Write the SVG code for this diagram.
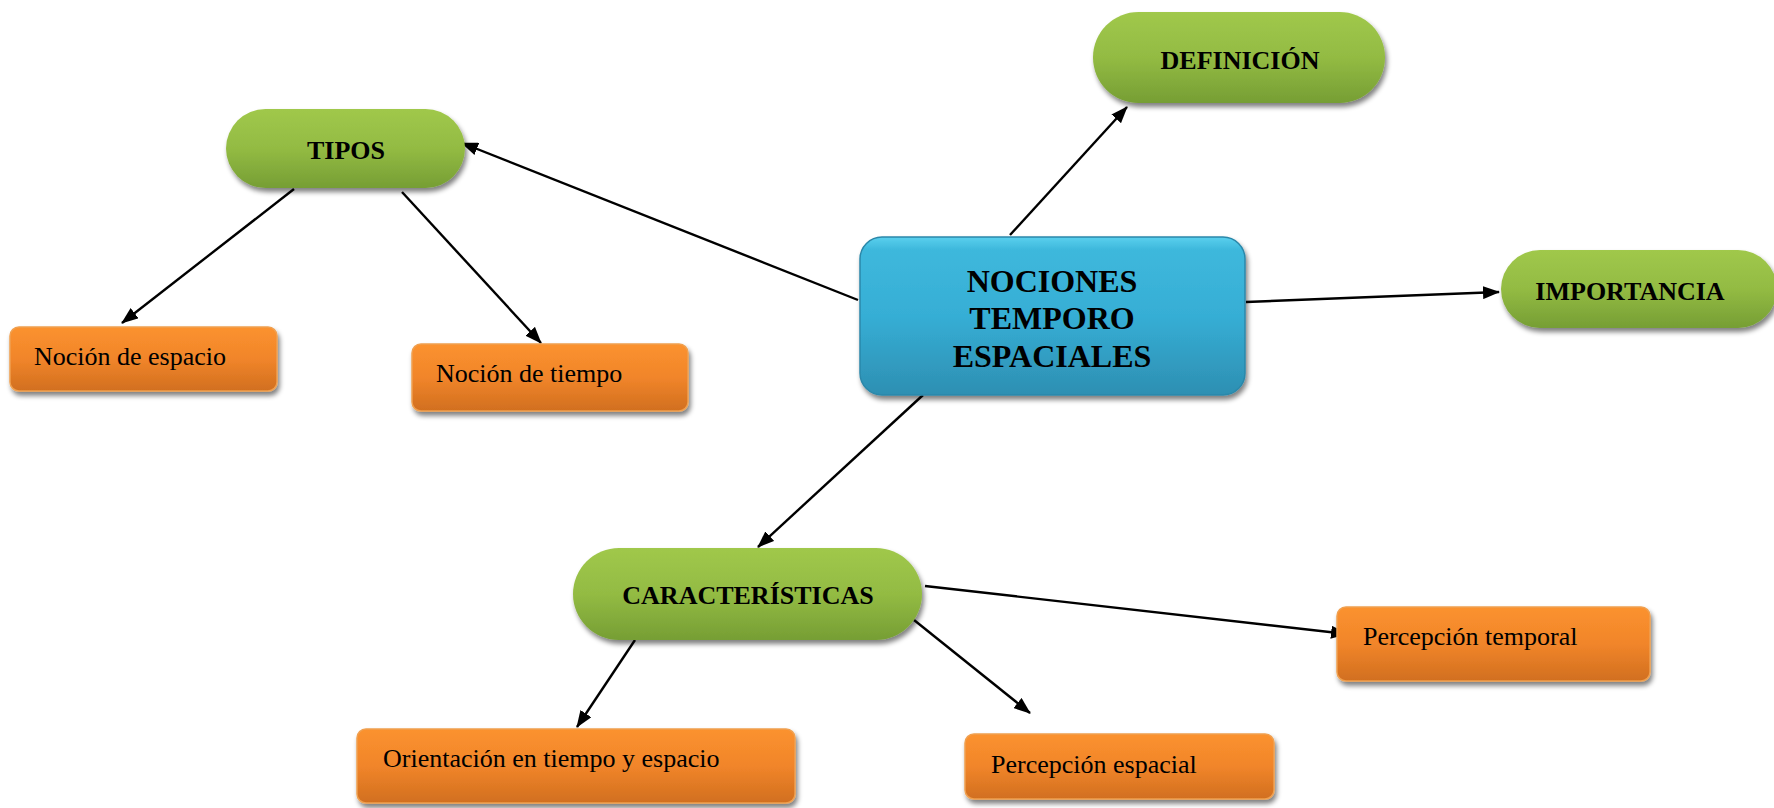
<svg xmlns="http://www.w3.org/2000/svg" width="1774" height="808" viewBox="0 0 1774 808">
<style>
.t{font-family:"Liberation Serif","Times New Roman",serif;fill:#000}
.b{font-weight:bold;font-size:26px;text-anchor:middle}
.c{font-weight:bold;font-size:32px;text-anchor:middle}
.o{font-size:26px}
.g{fill:url(#gg);filter:url(#sh)}
.r{fill:url(#og);stroke:#F0A050;stroke-width:1.5;filter:url(#sh)}
.e{stroke:#000;stroke-width:2.4;fill:none;marker-end:url(#ah)}
</style>
<defs>
<linearGradient id="gg" x1="0" y1="0" x2="0" y2="1">
<stop offset="0" stop-color="#A0C84B"/><stop offset="0.5" stop-color="#93BB43"/><stop offset="1" stop-color="#769E34"/>
</linearGradient>
<linearGradient id="og" x1="0" y1="0" x2="0" y2="1">
<stop offset="0" stop-color="#FB922F"/><stop offset="0.5" stop-color="#F1852A"/><stop offset="1" stop-color="#D16F1F"/>
</linearGradient>
<linearGradient id="bg" x1="0" y1="0" x2="0" y2="1">
<stop offset="0" stop-color="#5AD0EE"/><stop offset="0.08" stop-color="#3EB8DC"/><stop offset="0.5" stop-color="#36AED5"/><stop offset="1" stop-color="#2D8FB2"/>
</linearGradient>
<filter id="sh" x="-10%" y="-20%" width="125%" height="150%">
<feGaussianBlur in="SourceAlpha" stdDeviation="2.5"/>
<feOffset dx="2" dy="4" result="o"/>
<feComponentTransfer><feFuncA type="linear" slope="0.5"/></feComponentTransfer>
<feMerge><feMergeNode/><feMergeNode in="SourceGraphic"/></feMerge>
</filter>
<marker id="ah" viewBox="0 0 17 13" refX="16" refY="6.5" markerWidth="17" markerHeight="13" markerUnits="userSpaceOnUse" orient="auto">
<path d="M0,0 L17,6.5 L0,13 z" fill="#000"/>
</marker>
</defs>
<rect width="1774" height="808" fill="#fff"/>
<g id="connectors">
<line class="e" x1="858" y1="300" x2="462" y2="143"/>
<line class="e" x1="1010" y1="235" x2="1127" y2="107"/>
<line class="e" x1="1246" y1="302" x2="1499" y2="292"/>
<line class="e" x1="923" y1="395" x2="758" y2="547"/>
<line class="e" x1="294" y1="189" x2="122" y2="323"/>
<line class="e" x1="402" y1="192" x2="541" y2="343"/>
<line class="e" x1="635" y1="640" x2="577" y2="727"/>
<line class="e" x1="914" y1="620" x2="1030" y2="713"/>
<line class="e" x1="925" y1="586" x2="1347" y2="634"/>
</g>
<g id="central">
<rect x="860" y="237" width="385" height="158" rx="22" fill="url(#bg)" stroke="#2B88AA" stroke-width="1.5" filter="url(#sh)"/>
<text class="t c" x="1052" y="292">NOCIONES</text>
<text class="t c" x="1052" y="329">TEMPORO</text>
<text class="t c" x="1052" y="367">ESPACIALES</text>
</g>
<g id="tipos">
<rect class="g" x="226" y="109" width="239" height="79" rx="39.5"/>
<text class="t b" x="346" y="159">TIPOS</text>
</g>
<g id="definicion">
<rect class="g" x="1093" y="12" width="292" height="91" rx="45.5"/>
<text class="t b" x="1240" y="69">DEFINICIÓN</text>
</g>
<g id="importancia">
<rect class="g" x="1501" y="250" width="276" height="78" rx="39"/>
<text class="t b" x="1630" y="300">IMPORTANCIA</text>
</g>
<g id="caracteristicas">
<rect class="g" x="573" y="548" width="349" height="92" rx="46"/>
<text class="t b" x="748" y="604">CARACTERÍSTICAS</text>
</g>
<g id="nocion-espacio">
<rect class="r" x="10" y="327" width="267" height="64" rx="9"/>
<text class="t o" x="34" y="365">Noción de espacio</text>
</g>
<g id="nocion-tiempo">
<rect class="r" x="412" y="344" width="276" height="67" rx="9"/>
<text class="t o" x="436" y="382">Noción de tiempo</text>
</g>
<g id="orientacion">
<rect class="r" x="357" y="729" width="438" height="74" rx="9"/>
<text class="t o" x="383" y="767">Orientación en tiempo y espacio</text>
</g>
<g id="percepcion-espacial">
<rect class="r" x="965" y="734" width="309" height="65" rx="9"/>
<text class="t o" x="991" y="773">Percepción espacial</text>
</g>
<g id="percepcion-temporal">
<rect class="r" x="1337" y="607" width="313" height="74" rx="9"/>
<text class="t o" x="1363" y="645">Percepción temporal</text>
</g>
</svg>
